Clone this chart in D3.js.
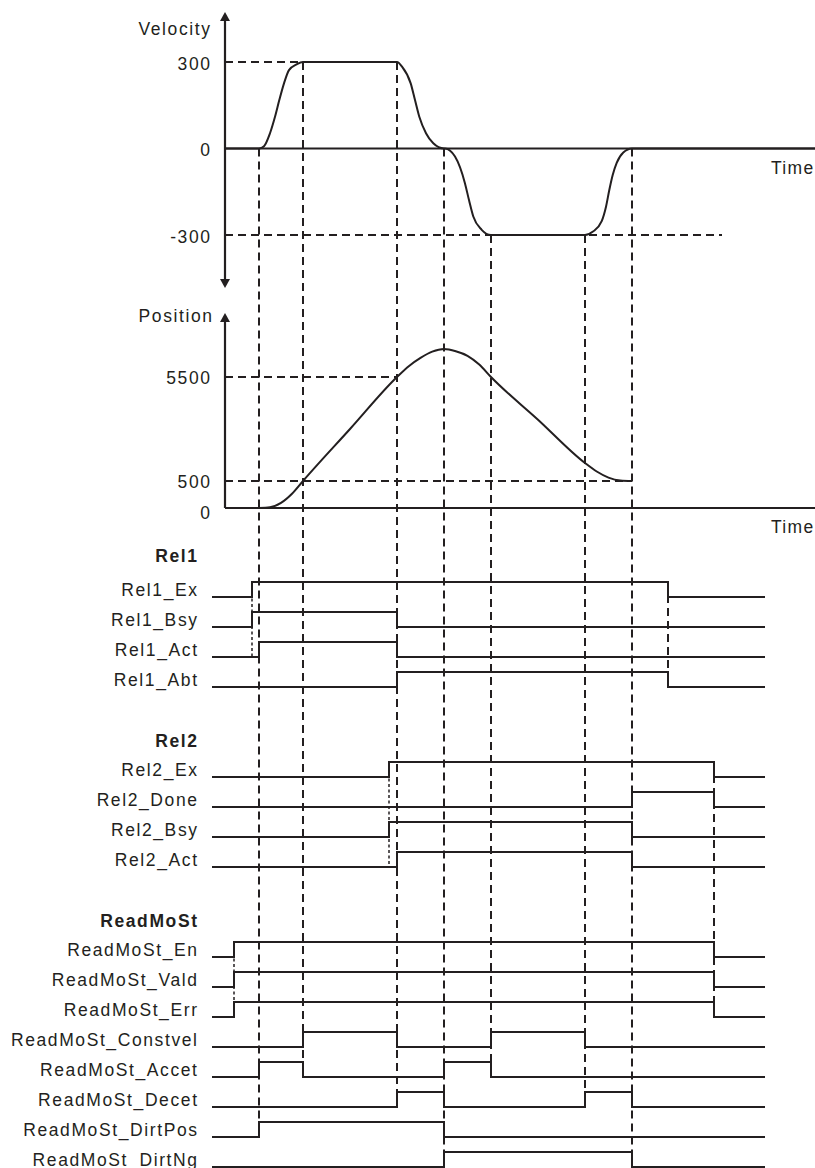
<!DOCTYPE html>
<html><head><meta charset="utf-8">
<script src="https://cdn.jsdelivr.net/npm/d3@7"></script>
<style>
body{margin:0;background:#fff}
svg{display:block;background:#fff}
text{font-family:"Liberation Sans",Arial,sans-serif;fill:#231f20;letter-spacing:1.6px;font-size:17.5px}
</style>
</head><body><svg id="c" width="815" height="1168"></svg>
<script>
// ---------------- DATA ----------------
const velTicks = [300, 0, -300];
const posTicks = [5500, 500, 0];
// velocity profile (time units, velocity)
const velTime  = [0,34,39,45,50,54.3,59,64,71.7,78,172,177,185.7,190,194.3,201,208.3,219,220,230,240,244,248.3,256.7,266,360,368,376.7,381,384.3,387.7,391.7,398.3,407,590];
const velValue = [0,0,8,53,110,168,226,272,292,300,300,284,226,168,110,53,18,0,0,-28,-121,-179,-236,-282,-300,-300,-288,-252,-202,-144,-92,-50,-14,0,0];
// position profile
const posTime  = [34,45,56,67,78,125,172,183.75,195.5,207.25,219,230.75,242.5,254.25,266,313,360,371.75,383.5,395.25,407];
const posValue = [0,13,94,263,500,3000,5500,6020,6420,6720,6846,6740,6520,6100,5500,3447,1365,957,663,524,500];

const groupNames = ["Rel1", "Rel2", "ReadMoSt"];
const rel1Signals = ["Rel1_Ex", "Rel1_Bsy", "Rel1_Act", "Rel1_Abt"];
const rel2Signals = ["Rel2_Ex", "Rel2_Done", "Rel2_Bsy", "Rel2_Act"];
const readSignals = ["ReadMoSt_En", "ReadMoSt_Vald", "ReadMoSt_Err", "ReadMoSt_Constvel",
                     "ReadMoSt_Accet", "ReadMoSt_Decet", "ReadMoSt_DirtPos", "ReadMoSt_DirtNg"];
// toggle times of each signal (all start low)
const signalEdges = {
  Rel1_Ex: [27, 443],
  Rel1_Bsy: [27, 172],
  Rel1_Act: [34, 172],
  Rel1_Abt: [172, 443],
  Rel2_Ex: [164, 489],
  Rel2_Done: [407, 489],
  Rel2_Bsy: [164, 407],
  Rel2_Act: [172, 407],
  ReadMoSt_En: [9, 489],
  ReadMoSt_Vald: [9, 489],
  ReadMoSt_Err: [9, 489],
  ReadMoSt_Constvel: [78, 172, 266, 360],
  ReadMoSt_Accet: [34, 78, 219, 266],
  ReadMoSt_Decet: [172, 219, 360, 407],
  ReadMoSt_DirtPos: [34, 219],
  ReadMoSt_DirtNg: [219, 407]
};
// dashed guide lines
const guideTimes = [34, 78, 172, 219, 266, 360, 407, 443, 489];
const guideFrom  = [{vel:0}, {vel:300}, {vel:300}, {vel:0}, {vel:-300}, {vel:-300}, {vel:0}, {sig:"Rel1_Ex"}, {sig:"Rel2_Ex"}];
const guideTo    = ["ReadMoSt_DirtPos", "ReadMoSt_Accet", "ReadMoSt_Decet", "ReadMoSt_DirtNg",
                    "ReadMoSt_Accet", "ReadMoSt_Decet", "ReadMoSt_DirtNg", "Rel1_Abt", "ReadMoSt_Err"];
const dotTimes = [27, 164, 9];
const dotFrom  = ["Rel1_Ex", "Rel2_Ex", "ReadMoSt_En"];
const dotTo    = ["Rel1_Act", "Rel2_Act", "ReadMoSt_Err"];
const hGuides = [
  {chart:"vel", v:300, t1:172},
  {chart:"vel", v:-300, t1:497},
  {chart:"pos", v:5500, t1:172},
  {chart:"pos", v:500, t1:407}
];

// ---------------- LAYOUT ----------------
const INK = "#231f20";
const svg = d3.select("#c");
const x = d3.scaleLinear().domain([0, 590]).range([225, 815]);
const yVel = d3.scaleLinear().domain([-300, 300]).range([235, 62]);
const yPos = d3.scaleLinear().domain([0, 500, 5500]).range([508, 481, 377]);
const SIG_T0 = -13, SIG_T1 = 540;
const groupFirstLow = [597, 777, 957];
const groupHeaderY = [562, 747, 927];
const ROW = 30, AMP = 15, LABEL_X = 198.6;
const groupSignals = [rel1Signals, rel2Signals, readSignals];
const lowY = {};
groupSignals.forEach((sigs, g) => sigs.forEach((s, i) => lowY[s] = groupFirstLow[g] + i * ROW));

// ---------------- GUIDES (under) ----------------
const gd = svg.append("g").attr("stroke", INK).attr("stroke-width", 2).attr("stroke-dasharray", "8,5").attr("fill", "none");
hGuides.forEach(h => {
  const yy = h.chart === "vel" ? yVel(h.v) : yPos(h.v);
  gd.append("line").attr("x1", x(0)).attr("x2", x(h.t1)).attr("y1", yy).attr("y2", yy);
});
guideTimes.forEach((t, i) => {
  const f = guideFrom[i];
  const y1 = f.vel !== undefined ? yVel(f.vel) : lowY[f.sig] - AMP;
  const y2 = lowY[guideTo[i]];
  gd.append("line").attr("x1", x(t)).attr("x2", x(t)).attr("y1", y1).attr("y2", y2);
});
const gdot = svg.append("g").attr("stroke", INK).attr("stroke-width", 1.5).attr("stroke-dasharray", "3,2.5").attr("fill", "none");
dotTimes.forEach((t, i) => {
  gdot.append("line").attr("x1", x(t)).attr("x2", x(t))
    .attr("y1", lowY[dotFrom[i]] - AMP).attr("y2", lowY[dotTo[i]]);
});

// ---------------- AXES ----------------
const ax = svg.append("g");
function arrow(cx, tipY, dir) {
  ax.append("path").attr("fill", INK)
    .attr("d", `M${cx},${tipY} L${cx - 5},${tipY + dir * 9} L${cx + 5},${tipY + dir * 9} Z`);
}
const x0 = x(0);
ax.append("line").attr("x1", x0).attr("x2", x0).attr("y1", 18).attr("y2", 282).attr("stroke", INK).attr("stroke-width", 2.2);
arrow(x0, 12, 1); arrow(x0, 288, -1);
ax.append("line").attr("x1", x0).attr("x2", x(590)).attr("y1", yVel(0)).attr("y2", yVel(0)).attr("stroke", INK).attr("stroke-width", 2.2);
ax.append("line").attr("x1", x0).attr("x2", x0).attr("y1", 319).attr("y2", yPos(0)).attr("stroke", INK).attr("stroke-width", 2.2);
arrow(x0, 313, 1);
ax.append("line").attr("x1", x0).attr("x2", x(590)).attr("y1", yPos(0)).attr("y2", yPos(0)).attr("stroke", INK).attr("stroke-width", 2.2);

ax.append("text").attr("x", 211.6).attr("y", 34.5).attr("text-anchor", "end").text("Velocity");
ax.append("text").attr("x", 213.6).attr("y", 322).attr("text-anchor", "end").text("Position");
ax.selectAll(".vt").data(velTicks).join("text").attr("class", "vt")
  .attr("x", 211.6).attr("y", d => yVel(d) + 7.5).attr("text-anchor", "end").text(d => d);
ax.selectAll(".pt").data(posTicks).join("text").attr("class", "pt")
  .attr("x", 211.6).attr("y", d => yPos(d) + (d === 0 ? 10.5 : 7)).attr("text-anchor", "end").text(d => d);
ax.append("text").attr("x", 771).attr("y", yVel(0) + 25.5).style("letter-spacing", "1.3px").text("Time");
ax.append("text").attr("x", 771).attr("y", yPos(0) + 25).style("letter-spacing", "1.3px").text("Time");

// ---------------- CURVES ----------------
const velPts = velTime.map((t, i) => [t, velValue[i]]);
const posPts = posTime.map((t, i) => [t, posValue[i]]);
svg.append("path").datum(velPts).attr("fill", "none").attr("stroke", INK).attr("stroke-width", 2)
  .attr("d", d3.line().x(d => x(d[0])).y(d => yVel(d[1])).curve(d3.curveMonotoneX));
svg.append("path").datum(posPts).attr("fill", "none").attr("stroke", INK).attr("stroke-width", 2)
  .attr("d", d3.line().x(d => x(d[0])).y(d => yPos(d[1])).curve(d3.curveMonotoneX));

// ---------------- SIGNALS ----------------
const sg = svg.append("g");
groupNames.forEach((g, gi) => {
  sg.append("text").attr("x", LABEL_X).attr("y", groupHeaderY[gi]).attr("text-anchor", "end")
    .attr("font-weight", "bold").text(g);
});
Object.keys(lowY).forEach(name => {
  const lo = lowY[name], hi = lo - AMP;
  let level = 0;
  const pts = [[SIG_T0, 0]];
  signalEdges[name].forEach(t => { pts.push([t, level]); level = 1 - level; pts.push([t, level]); });
  pts.push([SIG_T1, level]);
  sg.append("path").datum(pts).attr("fill", "none").attr("stroke", INK).attr("stroke-width", 2)
    .attr("d", d3.line().x(d => x(d[0])).y(d => d[1] ? hi : lo));
  sg.append("text").attr("x", LABEL_X).attr("y", lo - 1.5).attr("text-anchor", "end").text(name);
});
</script>
</body></html>
